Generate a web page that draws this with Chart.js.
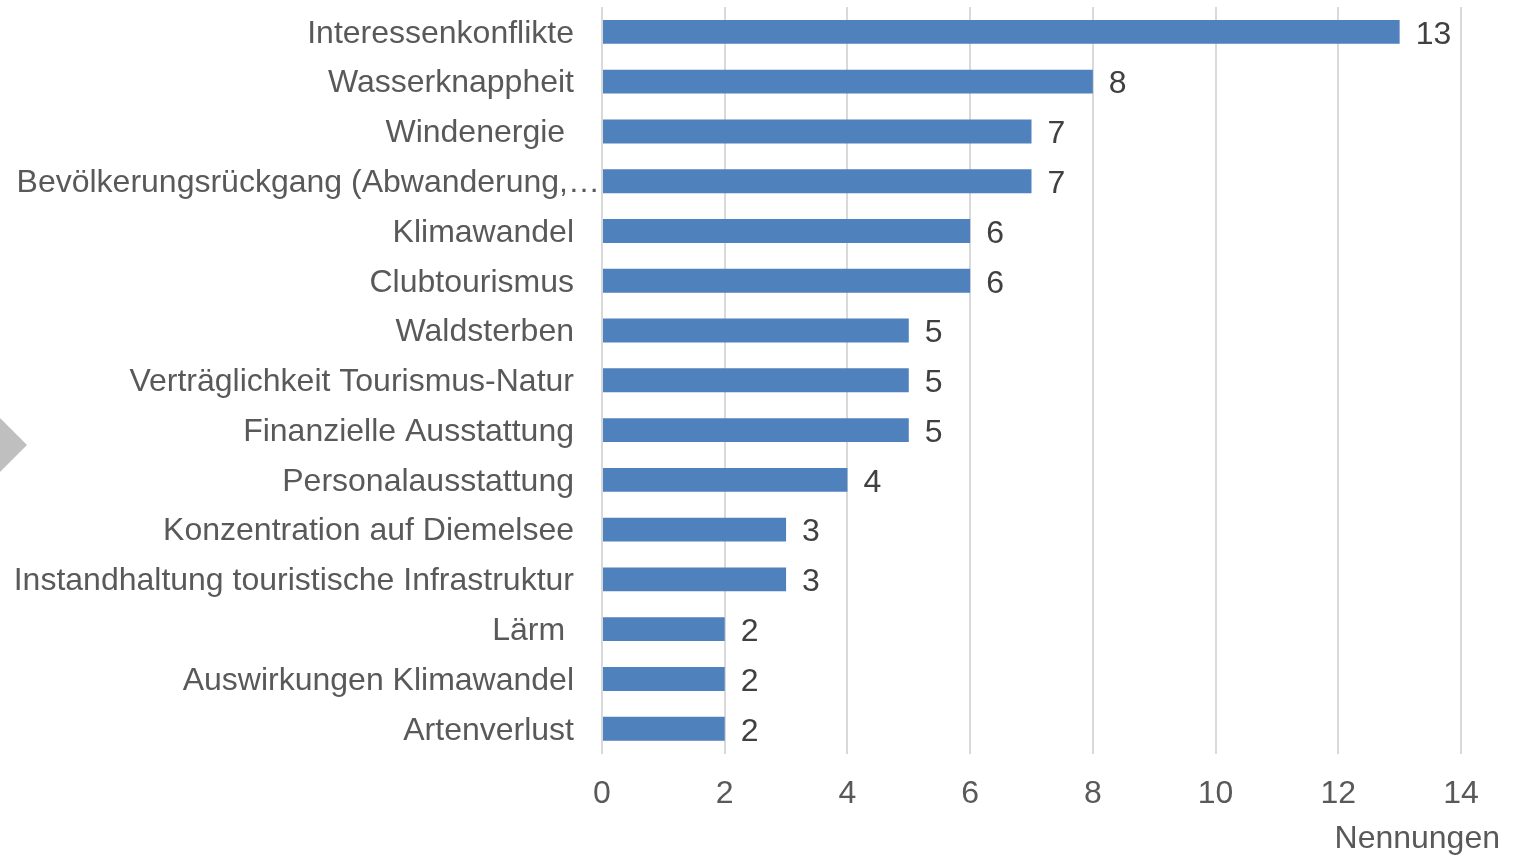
<!DOCTYPE html>
<html>
<head>
<meta charset="utf-8">
<script src="https://cdn.jsdelivr.net/npm/chart.js@4/dist/chart.umd.min.js"></script>
<style>
  html, body { margin: 0; padding: 0; background: #fff; }
  #wrap { width: 1521px; height: 855px; position: relative; }
</style>
</head>
<body>
<div id="wrap"><canvas id="myChart"></canvas></div>
<script>
// data
const themen = [
  'Interessenkonflikte',
  'Wasserknappheit',
  'Windenergie ',
  'Bevölkerungsrückgang (Abwanderung,…',
  'Klimawandel',
  'Clubtourismus',
  'Waldsterben',
  'Verträglichkeit Tourismus-Natur',
  'Finanzielle Ausstattung',
  'Personalausstattung',
  'Konzentration auf Diemelsee',
  'Instandhaltung touristische Infrastruktur',
  'Lärm ',
  'Auswirkungen Klimawandel',
  'Artenverlust'
];
const nennungen = [13, 8, 7, 7, 6, 6, 5, 5, 5, 4, 3, 3, 2, 2, 2];
const xTicks = [0, 2, 4, 6, 8, 10, 12, 14];
const achsenTitel = 'Nennungen';

const schrift = '"Liberation Sans", Arial, sans-serif';
const groesse = 32;

// grauer Pfeil links + Beschriftungen
const extras = {
  id: 'extras',
  beforeDraw(chart) {
    const ctx = chart.ctx;
    ctx.save();
    ctx.fillStyle = '#bfbfbf';
    ctx.beginPath();
    ctx.moveTo(0, 418);
    ctx.lineTo(27, 445);
    ctx.lineTo(0, 472);
    ctx.closePath();
    ctx.fill();
    ctx.restore();
  },
  afterDatasetsDraw(chart) {
    const ctx = chart.ctx;
    const x = chart.scales.x, y = chart.scales.y;
    const left = chart.chartArea.left;
    ctx.save();
    ctx.font = groesse + 'px ' + schrift;
    ctx.textBaseline = 'middle';
    // Kategorien
    ctx.fillStyle = '#595959';
    ctx.textAlign = 'right';
    themen.forEach((t, i) => {
      const py = y.getPixelForValue(i) + 2;
      // abgeschnittenes Label reicht bis an die Achse
      ctx.fillText(t, t.endsWith('…') ? left - 2 : left - 28, py);
    });
    // Werte
    ctx.fillStyle = '#404040';
    ctx.textAlign = 'left';
    nennungen.forEach((v, i) => {
      ctx.fillText(String(v), x.getPixelForValue(v) + 16, y.getPixelForValue(i) + 3);
    });
    // Achsentitel
    ctx.fillStyle = '#595959';
    ctx.textAlign = 'right';
    ctx.fillText(achsenTitel, 1500, 839);
    ctx.restore();
  }
};

new Chart(document.getElementById('myChart'), {
  type: 'bar',
  data: {
    labels: themen,
    datasets: [{
      data: nennungen,
      backgroundColor: '#4f81bd',
      borderWidth: 0,
      barPercentage: 0.96,
      categoryPercentage: 0.5
    }]
  },
  options: {
    indexAxis: 'y',
    responsive: true,
    maintainAspectRatio: false,
    animation: false,
    layout: { padding: { left: 594, right: 60, top: 7, bottom: 21 } },
    plugins: { legend: { display: false }, tooltip: { enabled: false } },
    scales: {
      x: {
        min: 0,
        max: 14,
        afterBuildTicks: s => { s.ticks = xTicks.map(v => ({ value: v })); },
        grid: { color: '#d9d9d9', lineWidth: 2, drawTicks: false },
        border: { display: false },
        ticks: { color: '#595959', padding: 21, font: { family: schrift, size: groesse } }
      },
      y: {
        grid: { display: false },
        border: { display: false },
        ticks: { display: false }
      }
    }
  },
  plugins: [extras]
});
</script>
</body>
</html>
